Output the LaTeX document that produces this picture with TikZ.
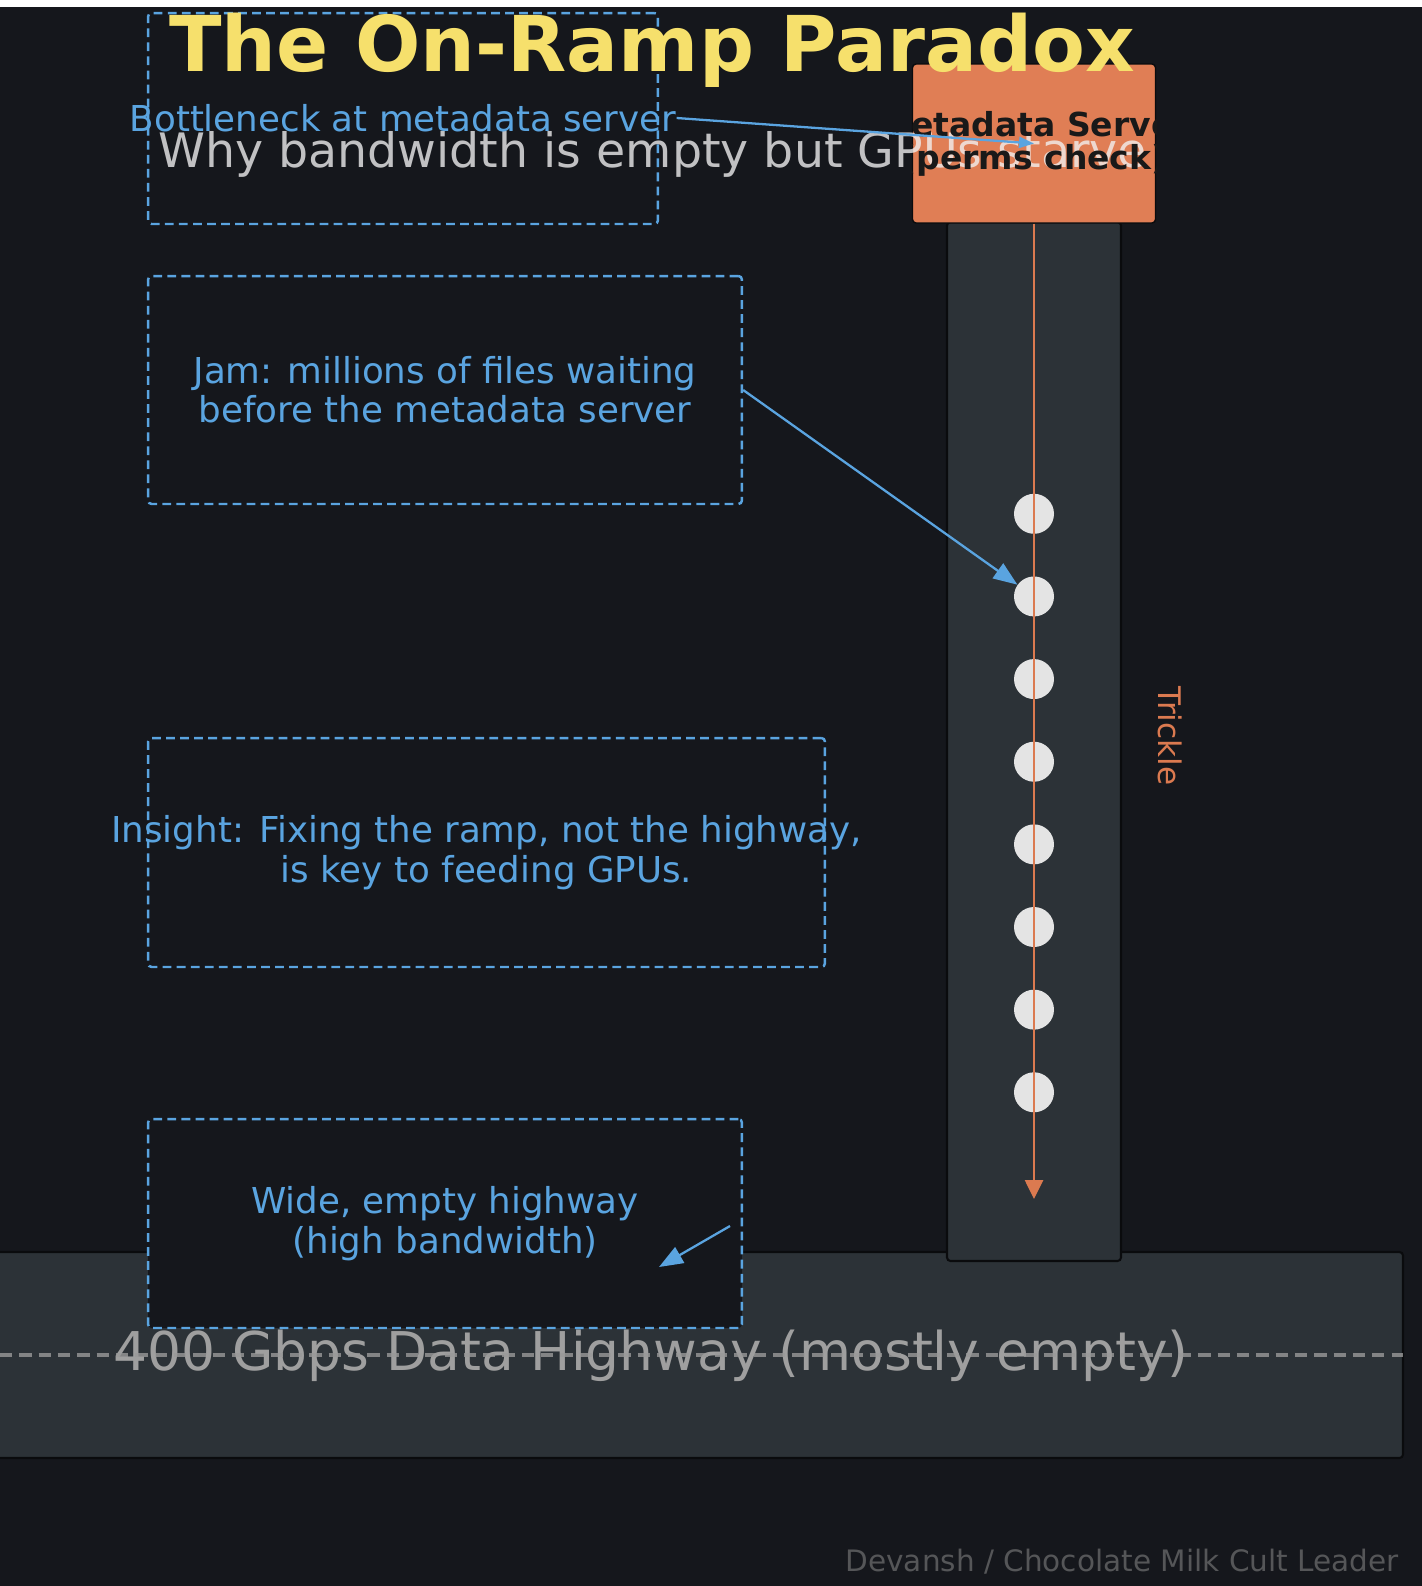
\documentclass[tikz,border=0pt]{standalone}
\usepackage{fontspec}
\setmainfont{DejaVu Sans}
\usetikzlibrary{arrows.meta,positioning}

\definecolor{bgdark}{HTML}{15171C}
\definecolor{noteblue}{HTML}{5AA4E0}
\definecolor{serverorange}{HTML}{E07E55}
\definecolor{rampline}{HTML}{DB7A50}
\definecolor{roadgrey}{HTML}{2C3237}
\definecolor{roadedge}{HTML}{0A0B0D}
\definecolor{filegrey}{HTML}{E4E4E4}
\definecolor{titleyellow}{HTML}{F6E06C}

\tikzset{
  note/.style={draw=noteblue, line width=1.4pt, dash pattern=on 5pt off 3pt,
    rounded corners=2pt, fill=bgdark, inner sep=0pt},
  notetext/.style={text=noteblue, align=center, inner sep=0pt,
    font=\fontsize{20.3}{22.4}\selectfont},
  pointer/.style={draw=noteblue, line width=1.3pt, -{Triangle[length=0.48cm,width=0.36cm]}},
  file/.style={circle, fill=filegrey, minimum size=0.8cm, inner sep=0pt},
  road/.style={fill=roadgrey, draw=roadedge, line width=1.2pt, rounded corners=2pt},
}

\begin{document}
\begin{tikzpicture}[x=0.02cm, y=-0.02cm]
\useasboundingbox (0,0) rectangle (1422,1586);
\fill[white] (0,0) rectangle (1422,7);
\fill[bgdark] (0,7) rectangle (1422,1586);

% highway
\draw[road] (-10,1252) rectangle (1403,1458);
\node[text=gray!75, anchor=base, inner sep=0pt, font=\fontsize{30.4}{34}\selectfont]
  (roadlabel) at (651,1370) {400 Gbps Data Highway (mostly empty)};
\draw[gray!80, line width=1.8pt, dash pattern=on 7pt off 4pt, opacity=0.8] (0,1355) -- (1403,1355);

% on-ramp
\draw[road] (947,222) rectangle (1121,1261);
\node[fill=serverorange, draw=roadedge, line width=0.8pt, rounded corners=2pt,
  minimum width=4.86cm, minimum height=3.18cm] (meta) at (1034,143.5) {};
\foreach \i in {1,...,8}
  \node[file] (f\i) at (1034,{513.8+82.64*(\i-1)}) {};
\coordinate (rampend) at (1034,1199);
\draw[rampline, line width=1.5pt, -{Triangle[length=0.38cm,width=0.36cm]}] (meta.south) -- (rampend);
\node[rotate=-90, text=rampline, inner sep=0pt, font=\fontsize{17.7}{20}\selectfont]
  (trickle) at (1170,736) {Trickle};

% callout boxes
\node[note, minimum width=10.2cm, minimum height=4.22cm] (neckbox) at (403,118.5) {};
\node[note, minimum width=11.88cm, minimum height=4.56cm] (jambox) at (445,390) {};
\node[note, minimum width=13.54cm, minimum height=4.58cm] (insightbox) at (486.5,852.5) {};
\node[note, minimum width=11.88cm, minimum height=4.18cm] (widebox) at (445,1223.5) {};

\node[notetext] (jamtxt) at (jambox.center) {Jam: millions of files waiting\\before the metadata server};
\node[notetext] (insighttxt) at (insightbox.center) {Insight: Fixing the ramp, not the highway,\\is key to feeding GPUs.};
\node[notetext] (widetxt) at (widebox.center) {Wide, empty highway\\(high bandwidth)};

% title lines
\node[text=black!5, text opacity=0.78, anchor=base west, inner sep=0pt, font=\fontsize{27}{32}\selectfont]
  (subtitle) at (158,167) {Why bandwidth is empty but GPUs starve};
\begin{scope}
  \clip (meta.south west) rectangle (meta.north east);
  \node[align=center, text=black!90, font=\bfseries\fontsize{18.8}{18.8}\selectfont]
    (metatxt) at (meta.center) {Metadata Server\\(perms check)};
\end{scope}
\node[text=titleyellow, anchor=base, inner sep=0pt, font=\bfseries\fontsize{43.8}{50}\selectfont]
  (title) at (652,71) {The On-Ramp Paradox};
\node[notetext] (necktxt) at (403,118) {Bottleneck at metadata server};

% pointers
\draw[pointer, -{Triangle[length=0.3cm,width=0.22cm]}] (necktxt.east) -- (meta.center);
\draw[pointer] (jambox.east) -- (f2);
\coordinate (hwstart) at (730,1226);
\coordinate (hwend) at (659,1267);
\draw[pointer] (hwstart) -- (hwend);

\node[text=gray!60!bgdark, anchor=base east, inner sep=0pt, font=\fontsize{16.8}{20}\selectfont]
  (credit) at (1399,1571) {Devansh / Chocolate Milk Cult Leader};
\end{tikzpicture}
\end{document}
